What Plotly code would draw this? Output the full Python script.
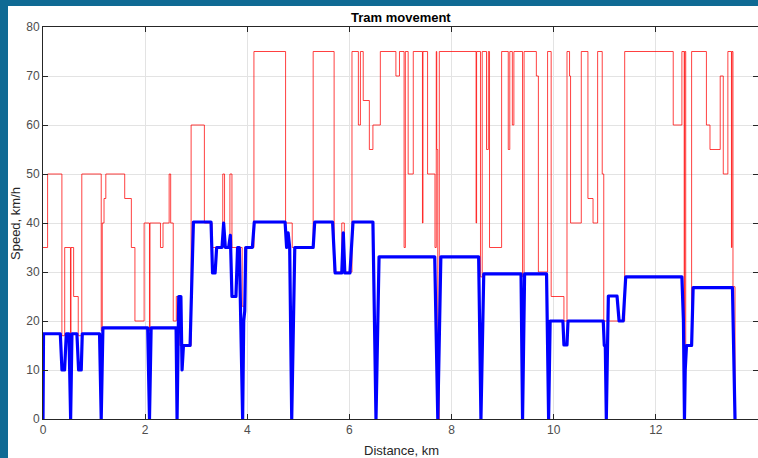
import plotly.graph_objects as go

# Speed limit profile (step changes): distance [km], limit [km/h]
limit_km = [0.00, 0.09, 0.37, 0.425, 0.538, 0.548, 0.60, 0.69, 0.76, 1.14, 1.16, 1.195, 1.23,
            1.60, 1.73, 1.80, 1.98, 2.085, 2.095, 2.30, 2.35, 2.47, 2.50, 2.55, 2.61, 2.68,
            2.90, 3.16, 3.31, 3.52, 3.555, 3.66, 3.70, 3.90, 3.95, 4.13, 4.75, 4.88,
            5.29, 5.70, 5.85, 5.90, 6.05, 6.175, 6.215, 6.27, 6.39, 6.46, 6.605, 6.91, 6.98,
            7.07, 7.095, 7.15, 7.25, 7.43, 7.44, 7.53, 7.675, 7.70, 7.71, 7.73, 7.76,
            8.48, 8.49, 8.566, 8.60, 8.684, 8.72, 8.743, 8.98, 9.11, 9.14, 9.19, 9.22,
            9.39, 9.42, 9.66, 9.70, 9.88, 9.95, 10.20, 10.26, 10.31, 10.33, 10.54, 10.67,
            10.77, 10.86, 10.95, 10.98, 11.39, 12.34, 12.51, 12.555, 12.565, 12.585, 12.70,
            12.99, 13.06, 13.26, 13.32, 13.41, 13.48, 13.49, 13.51, 13.55]
limit_kmh = [35, 50, 17, 35, 17, 35, 25, 17, 50, 18, 40, 45, 50,
             45, 35, 20, 40, 18, 40, 35, 40, 50, 40, 20, 25, 15,
             60, 40, 35, 50, 35, 50, 35, 23, 35, 75, 40, 35,
             75, 30, 40, 30, 75, 60, 75, 65, 55, 60, 75, 70, 75,
             35, 75, 50, 75, 40, 75, 50, 35, 75, 55, 0, 75,
             40, 75, 29, 75, 55, 75, 35, 75, 55, 75, 60, 75,
             29, 75, 70, 30, 75, 25, 20, 75, 70, 40, 75, 45,
             40, 75, 50, 20, 75, 60, 75, 20, 75, 15, 75,
             60, 55, 70, 50, 75, 35, 75, 27, 0]

# Measured tram speed: distance [km], speed [km/h]
speed_km = [0.00, 0.01, 0.339, 0.371, 0.423, 0.456, 0.508, 0.541, 0.567, 0.664, 0.697, 0.749,
            0.769, 1.107, 1.14, 1.173, 2.05, 2.085, 2.117, 2.606, 2.625, 2.658, 2.70, 2.723,
            2.75, 2.88, 2.945, 3.29, 3.32, 3.37, 3.40, 3.505, 3.537, 3.57, 3.635, 3.668,
            3.70, 3.778, 3.81, 3.844, 3.909, 3.93, 3.95, 3.97, 4.10, 4.137, 4.74, 4.77,
            4.80, 4.83, 4.87, 4.93, 5.29, 5.32, 5.67, 5.72, 5.85, 5.88, 5.91, 6.01, 6.07,
            6.46, 6.52, 6.58, 7.67, 7.73, 7.79, 8.53, 8.575, 8.63, 9.36, 9.39, 9.43, 9.86,
            9.90, 9.93, 10.18, 10.20, 10.26, 10.28, 10.97, 10.99, 11.01, 11.03, 11.07, 11.24,
            11.28, 11.36, 11.41, 12.51, 12.54, 12.56, 12.575, 12.60, 12.70, 12.73, 13.50, 13.55]
speed_kmh = [0, 17.4, 17.4, 10, 10, 17.4, 17.4, 0, 17.4, 17.4, 10, 10,
             17.4, 17.4, 0, 18.6, 18.6, 0, 18.6, 18.6, 0, 25, 25, 10,
             15, 15, 40.2, 40.2, 29.8, 29.8, 35, 35, 40, 35, 35, 37.5,
             25, 25, 35, 35, 0, 20, 22, 35, 35, 40.2, 40.2, 35,
             38, 35, 0, 35, 35, 40.2, 40.2, 29.8, 29.8, 38, 29.8, 29.8, 40.2,
             40.2, 0, 33.1, 33.1, 0, 33.1, 33.1, 0, 29.6, 29.6, 0, 29.6, 29.6,
             0, 20, 20, 15.1, 15.1, 20, 20, 15, 15, 0, 25.1, 25.1,
             20, 20, 29, 29, 20, 0, 10, 15, 15, 26.8, 26.8, 0]

x_ticks = [0, 2, 4, 6, 8, 10, 12, 14]
y_ticks = [0, 10, 20, 30, 40, 50, 60, 70, 80]

FONT = "Liberation Sans, Arial, Helvetica, sans-serif"

fig = go.Figure()
fig.add_trace(go.Scatter(
    x=limit_km, y=limit_kmh, mode="lines",
    line=dict(color="rgba(255,0,0,0.75)", width=1, shape="hv"),
    hoverinfo="skip", showlegend=False))
fig.add_trace(go.Scatter(
    x=speed_km, y=speed_kmh, mode="lines",
    line=dict(color="#0000FF", width=3.2),
    showlegend=False))

axis_common = dict(
    showgrid=True, gridcolor="#E3E3E3", gridwidth=1,
    showline=True, linecolor="#262626", linewidth=1, mirror="ticks",
    ticks="inside", ticklen=5, tickcolor="#262626", tickwidth=1,
    tickfont=dict(family=FONT, size=12, color="#4D4D4D"),
    zeroline=False,
)

fig.update_layout(
    width=758, height=458,
    margin=dict(l=43, r=0, t=27, b=39, autoexpand=False),
    paper_bgcolor="#0F6A94",
    plot_bgcolor="#FFFFFF",
    font=dict(family=FONT),
    xaxis=dict(range=[0, 14], tickvals=x_ticks, ticktext=[str(v) for v in x_ticks], **axis_common),
    yaxis=dict(range=[0, 80], tickvals=y_ticks, ticktext=[str(v) for v in y_ticks], **axis_common),
    shapes=[dict(type="rect", xref="paper", yref="paper",
                 x0=(8 - 43) / 715, x1=1.05, y0=-0.2, y1=1 + 21 / 392,
                 fillcolor="#FFFFFF", line=dict(width=0), layer="below")],
    annotations=[
        dict(text="<b>Tram movement</b>", xref="paper", yref="paper",
             x=0.5, y=(392 + 27 - 17) / 392, xanchor="center", yanchor="middle",
             showarrow=False, font=dict(family=FONT, size=13, color="#000000")),
        dict(text="Distance, km", xref="paper", yref="paper",
             x=(401 - 43) / 715, y=(419 - 450) / 392, xanchor="center", yanchor="middle",
             showarrow=False, font=dict(family=FONT, size=13, color="#262626")),
        dict(text="Speed, km/h", xref="paper", yref="paper", textangle=-90,
             x=(15 - 43) / 715, y=0.5, xanchor="center", yanchor="middle",
             showarrow=False, font=dict(family=FONT, size=13, color="#262626")),
    ],
)

round_joins = (
    "var st=document.createElement('style');"
    "st.textContent='.scatterlayer .js-line{stroke-linejoin:round;stroke-linecap:round;}';"
    "document.head.appendChild(st);"
)

fig.write_html("out.html", post_script=round_joins)
